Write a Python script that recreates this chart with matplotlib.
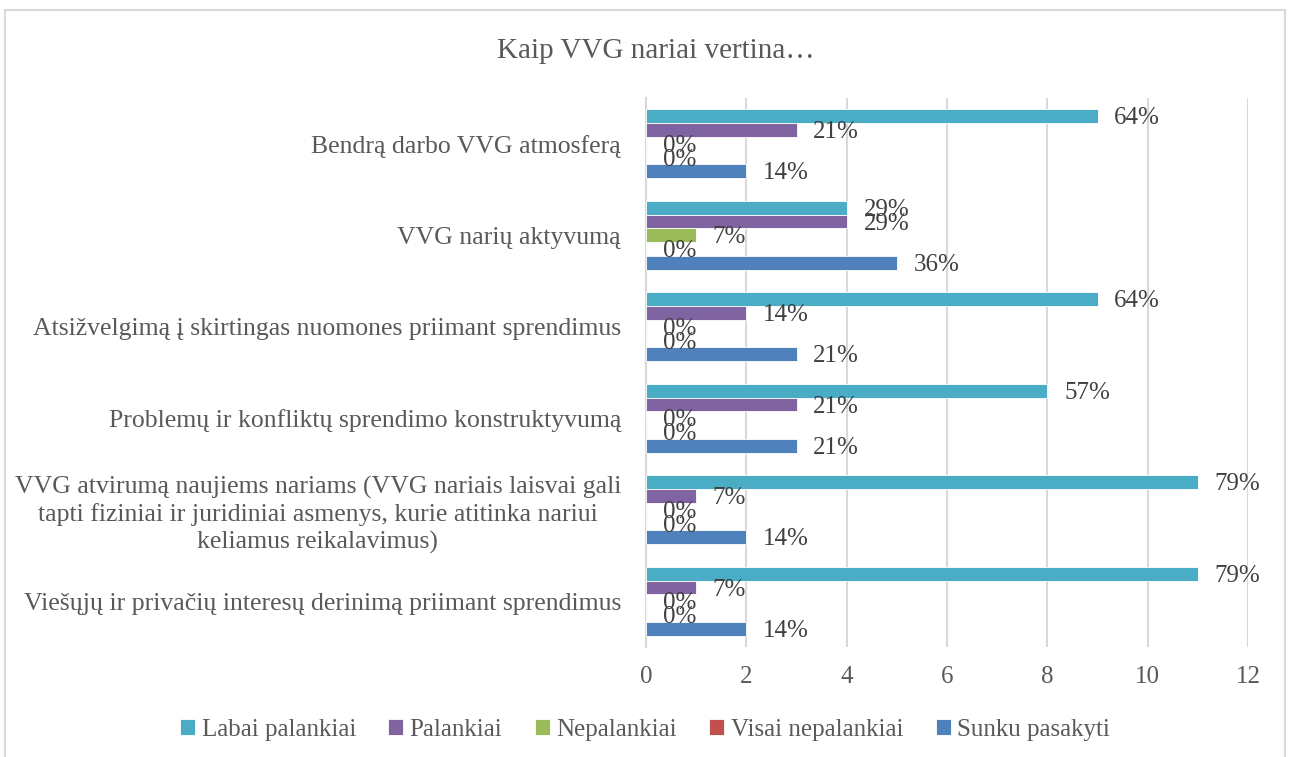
import numpy as np
import matplotlib.pyplot as plt
from matplotlib.patches import Rectangle

plt.rcParams['font.family'] = ['Liberation Serif', 'DejaVu Serif']

categories = [
    'Bendrą darbo VVG atmosferą',
    'VVG narių aktyvumą',
    'Atsižvelgimą į skirtingas nuomones priimant sprendimus',
    'Problemų ir konfliktų sprendimo konstruktyvumą',
    'VVG atvirumą naujiems nariams (VVG nariais laisvai gali\n'
    'tapti fiziniai ir juridiniai asmenys, kurie atitinka nariui\n'
    'keliamus reikalavimus)',
    'Viešųjų ir privačių interesų derinimą priimant sprendimus',
]
series = ['Labai palankiai', 'Palankiai', 'Nepalankiai', 'Visai nepalankiai', 'Sunku pasakyti']
colors = ['#4BACC6', '#8064A2', '#9BBB59', '#C0504D', '#4F81BD']

labai = [9, 4, 9, 8, 11, 11]
palankiai = [3, 4, 2, 3, 1, 1]
nepalankiai = [0, 1, 0, 0, 0, 0]
visai_nepalankiai = [0, 0, 0, 0, 0, 0]
sunku = [2, 5, 3, 3, 2, 2]
values = [labai, palankiai, nepalankiai, visai_nepalankiai, sunku]

total = 14
text_col = '#595959'
fs = 18

fig = plt.figure(figsize=(12.9, 7.57), dpi=100)
fig.patches.append(Rectangle((5 / 1290, -0.1), 1280 / 1290, 1.1 - 10 / 757,
                             transform=fig.transFigure, fill=False,
                             edgecolor='#D9D9D9', lw=1.5))
ax = fig.add_axes([0.5008, 0.1453, 0.4667, 0.7252])

y = np.arange(len(categories))
h = 0.15
for k, (name, vals, c) in enumerate(zip(series, values, colors)):
    pos = y + (k - 2) * h
    ax.barh(pos, vals, height=h, color=c, edgecolor='white', lw=0.6,
            label=name, zorder=3)
    for p, v in zip(pos, vals):
        ax.annotate(f'{round(v / total * 100)}%', (v, p), xytext=(12, -1.5),
                    textcoords='offset points', va='center', ha='left',
                    fontsize=fs, color='#404040', zorder=4)

ax.set_xlim(0, 12)
ax.set_ylim(len(categories) - 0.5, -0.5)
ax.set_xticks(range(0, 13, 2))
ax.set_yticks(y)
ax.set_yticklabels(categories, fontsize=18.5, color=text_col,
                   linespacing=1.25)
for lbl in ax.get_yticklabels():
    lbl.set_multialignment('center')
ax.tick_params(axis='x', length=0, pad=14, labelsize=fs, labelcolor=text_col)
ax.tick_params(axis='y', length=0, pad=18)
ax.grid(axis='x', color='#D9D9D9', lw=1.5, zorder=0)
for s in ['top', 'right', 'bottom']:
    ax.spines[s].set_visible(False)
ax.spines['left'].set_color('#D9D9D9')
ax.spines['left'].set_linewidth(1.5)

fig.text(0.508, 0.932, 'Kaip VVG nariai vertina…', ha='center', va='center',
         fontsize=21, color=text_col)

fig.legend(loc='center', bbox_to_anchor=(0.5, 0.036), ncol=5, frameon=False,
           fontsize=fs, labelcolor=text_col, handlelength=0.6,
           handleheight=0.6, handletextpad=0.25, columnspacing=1.3)

fig.savefig('out.png', dpi=100)
